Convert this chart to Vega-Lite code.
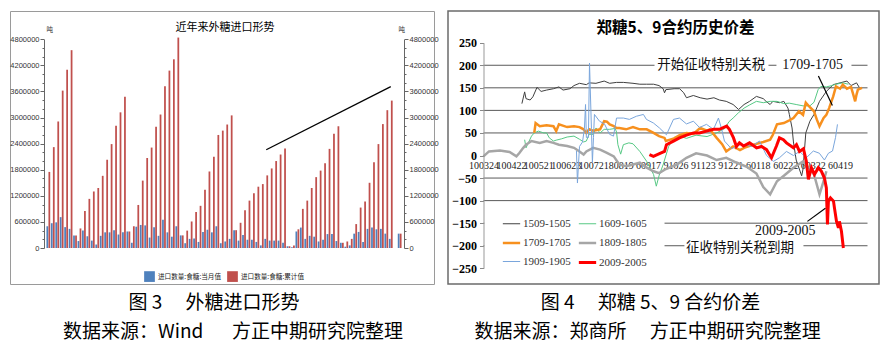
{
  "$schema": "https://vega.github.io/schema/vega-lite/v6.json",
  "padding": {"left": 9, "top": 10, "right": 4, "bottom": 0},
  "background": "white",
  "spacing": 8,
  "resolve": {"scale": {"color": "independent", "strokeWidth": "independent"}, "legend": {"color": "independent", "strokeWidth": "independent"}},
  "config": {
    "font": "Noto Sans CJK SC",
    "axis": {"labelOverlap": false, "labelBound": false, "labelFlush": false, "grid": false},
    "concat": {"spacing": 8}
  },
  "hconcat": [
    {
      "title": {"text": "数据来源：Wind\u3000\u2002方正中期研究院整理", "orient": "bottom", "anchor": "middle", "dx": 9, "fontSize": 19, "fontWeight": "normal", "offset": 10, "font": "Noto Sans CJK SC", "color": "#000"},
      "vconcat": [
        {
          "title": {"text": "图 3\u3000 外糖进口形势", "orient": "bottom", "anchor": "middle", "dx": -10, "fontSize": 19, "fontWeight": "normal", "offset": 9, "font": "Noto Sans CJK SC", "color": "#000"},
          "vconcat": [
            {
              "width": 424,
              "height": 273,
              "view": {"stroke": "#9a9a9a", "strokeWidth": 1},
              "title": {"text": "近年来外糖进口形势", "offset": -22, "fontSize": 11, "fontWeight": "normal", "font": "Noto Sans CJK SC", "color": "#000", "anchor": "middle", "dx": 3},
              "resolve": {"axis": {"y": "independent"}},
              "layer": [
                {
                  "data": {"values": [
                    {"m":"2013-07","a":500000,"c":1750000},{"m":"2013-08","a":570000,"c":2320000},{"m":"2013-09","a":590000,"c":2910000},{"m":"2013-10","a":710000,"c":3620000},{"m":"2013-11","a":480000,"c":4100000},{"m":"2013-12","a":440000,"c":4550000},
                    {"m":"2014-01","a":290000,"c":290000},{"m":"2014-02","a":160000,"c":450000},{"m":"2014-03","a":400000,"c":850000},{"m":"2014-04","a":270000,"c":1130000},{"m":"2014-05","a":170000,"c":1300000},{"m":"2014-06","a":80000,"c":1380000},{"m":"2014-07","a":280000,"c":1660000},{"m":"2014-08","a":360000,"c":2030000},{"m":"2014-09","a":360000,"c":2390000},{"m":"2014-10","a":410000,"c":2810000},{"m":"2014-11","a":310000,"c":3120000},{"m":"2014-12","a":360000,"c":3480000},
                    {"m":"2015-01","a":380000,"c":380000},{"m":"2015-02","a":120000,"c":500000},{"m":"2015-03","a":490000,"c":990000},{"m":"2015-04","a":530000,"c":1550000},{"m":"2015-05","a":520000,"c":2070000},{"m":"2015-06","a":240000,"c":2310000},{"m":"2015-07","a":480000,"c":2790000},{"m":"2015-08","a":280000,"c":3070000},{"m":"2015-09","a":650000,"c":3720000},{"m":"2015-10","a":360000,"c":4080000},{"m":"2015-11","a":260000,"c":4340000},{"m":"2015-12","a":500000,"c":4840000},
                    {"m":"2016-01","a":290000,"c":290000},{"m":"2016-02","a":110000,"c":400000},{"m":"2016-03","a":210000,"c":610000},{"m":"2016-04","a":220000,"c":830000},{"m":"2016-05","a":140000,"c":970000},{"m":"2016-06","a":370000,"c":1340000},{"m":"2016-07","a":420000,"c":1760000},{"m":"2016-08","a":360000,"c":2100000},{"m":"2016-09","a":500000,"c":2600000},{"m":"2016-10","a":110000,"c":2700000},{"m":"2016-11","a":150000,"c":2840000},{"m":"2016-12","a":210000,"c":3050000},
                    {"m":"2017-01","a":410000,"c":410000},{"m":"2017-02","a":170000,"c":580000},{"m":"2017-03","a":300000,"c":870000},{"m":"2017-04","a":190000,"c":1090000},{"m":"2017-05","a":190000,"c":1260000},{"m":"2017-06","a":140000,"c":1410000},{"m":"2017-07","a":60000,"c":1470000},{"m":"2017-08","a":210000,"c":1670000},{"m":"2017-09","a":170000,"c":1830000},{"m":"2017-10","a":170000,"c":2000000},{"m":"2017-11","a":170000,"c":2150000},{"m":"2017-12","a":120000,"c":2290000},
                    {"m":"2018-01","a":40000,"c":40000},{"m":"2018-02","a":20000,"c":60000},{"m":"2018-03","a":380000,"c":430000},{"m":"2018-04","a":470000,"c":900000},{"m":"2018-05","a":210000,"c":1090000},{"m":"2018-06","a":280000,"c":1380000},{"m":"2018-07","a":260000,"c":1630000},{"m":"2018-08","a":150000,"c":1780000},{"m":"2018-09","a":190000,"c":1950000},{"m":"2018-10","a":320000,"c":2280000},{"m":"2018-11","a":320000,"c":2630000},{"m":"2018-12","a":160000,"c":2800000},
                    {"m":"2019-01","a":120000,"c":120000},{"m":"2019-02","a":30000,"c":150000},{"m":"2019-03","a":60000,"c":210000},{"m":"2019-04","a":330000,"c":550000},{"m":"2019-05","a":370000,"c":930000},{"m":"2019-06","a":140000,"c":1070000},{"m":"2019-07","a":440000,"c":1500000},{"m":"2019-08","a":470000,"c":1970000},{"m":"2019-09","a":430000,"c":2390000},{"m":"2019-10","a":440000,"c":2850000},{"m":"2019-11","a":330000,"c":3170000},{"m":"2019-12","a":210000,"c":3390000},
                    {"m":"2020-01","a":0,"c":0},{"m":"2020-02","a":330000,"c":330000}
                  ]},
                  "transform": [{"fold": ["a", "c"], "as": ["s", "v"]}],
                  "mark": {"type": "bar"},
                  "encoding": {
                    "x": {"field": "m", "type": "ordinal", "scale": {"range": [34, 394], "paddingInner": 0.15, "paddingOuter": 0.55},
                      "axis": {"orient": "bottom", "offset": -36, "title": null, "labelAngle": 0,
                        "values": ["2013-09","2013-12","2014-03","2014-06","2014-09","2014-12","2015-03","2015-06","2015-09","2015-12","2016-03","2016-06","2016-09","2016-12","2017-03","2017-06","2017-09","2017-12","2018-03","2018-06","2018-09","2018-12","2019-03","2019-06","2019-09","2019-12"],
                        "labelExpr": "slice(datum.value, 5) == '12' ? slice(datum.value, 2) : ''",
                        "tickSize": {"condition": {"test": "slice(datum.value, 5) == '12'", "value": 4}, "value": 2.5},
                        "domainColor": "#666", "tickColor": "#666", "labelFont": "Liberation Sans", "labelFontSize": 7.5, "labelColor": "#333", "labelPadding": 2}},
                    "xOffset": {"field": "s", "type": "nominal", "scale": {"paddingInner": 0.12}},
                    "y": {"field": "v", "type": "quantitative", "scale": {"domain": [0, 4800000], "range": [237, 28.3], "nice": false},
                      "axis": {"orient": "left", "offset": -34, "title": "吨", "titleAngle": 0, "titleX": 2, "titleY": 21, "titleAlign": "left", "titleBaseline": "bottom", "titleFontSize": 6.5, "titleFontWeight": "normal", "titleColor": "#333",
                        "values": [0,200000,400000,600000,800000,1000000,1200000,1400000,1600000,1800000,2000000,2200000,2400000,2600000,2800000,3000000,3200000,3400000,3600000,3800000,4000000,4200000,4400000,4600000,4800000],
                        "format": "d", "labelExpr": "datum.value % 600000 === 0 ? datum.label : ''",
                        "tickSize": {"condition": {"test": "datum.value % 600000 === 0", "value": 4}, "value": 2},
                        "domainColor": "#666", "tickColor": "#666", "labelFont": "Liberation Sans", "labelFontSize": 7.5, "labelColor": "#333", "labelPadding": 1}},
                    "color": {"field": "s", "type": "nominal", "scale": {"domain": ["a", "c"], "range": ["#4f81bd", "#c0504d"]},
                      "legend": {"orient": "none", "legendX": 134, "legendY": 260, "direction": "horizontal", "title": null, "symbolType": "square", "symbolSize": 115, "symbolStrokeWidth": 0, "labelFontSize": 6.6, "labelFont": "Noto Sans CJK SC", "labelColor": "#222", "columnPadding": 5, "labelOffset": 3, "padding": 0,
                        "labelExpr": "datum.value == 'a' ? '进口数量:食糖:当月值' : '进口数量:食糖:累计值'"}}
                  }
                },
                {
                  "data": {"values": [{"m1": "2017-08", "m2": "2019-12", "y1": 2260000, "y2": 3710000}]},
                  "mark": {"type": "rule", "color": "#000", "strokeWidth": 1.3},
                  "encoding": {
                    "x": {"field": "m1", "type": "ordinal", "scale": {"range": [34, 394], "paddingInner": 0.15, "paddingOuter": 0.55}, "axis": null},
                    "x2": {"field": "m2"},
                    "y": {"field": "y1", "type": "quantitative", "scale": {"domain": [0, 4800000], "range": [237, 28.3], "nice": false},
                      "axis": {"orient": "right", "offset": -30, "title": "吨", "titleAngle": 0, "titleX": -6, "titleY": 21, "titleAlign": "left", "titleBaseline": "bottom", "titleFontSize": 6.5, "titleFontWeight": "normal", "titleColor": "#333",
                        "values": [0,200000,400000,600000,800000,1000000,1200000,1400000,1600000,1800000,2000000,2200000,2400000,2600000,2800000,3000000,3200000,3400000,3600000,3800000,4000000,4200000,4400000,4600000,4800000],
                        "format": "d", "labelExpr": "datum.value % 600000 === 0 ? datum.label : ''",
                        "tickSize": {"condition": {"test": "datum.value % 600000 === 0", "value": 4}, "value": 2},
                        "domainColor": "#666", "tickColor": "#666", "labelFont": "Liberation Sans", "labelFontSize": 7.5, "labelColor": "#333", "labelPadding": 1}},
                    "y2": {"field": "y2"}
                  }
                },
                {
                  "mark": {"type": "point", "shape": "triangle-up", "filled": true, "size": 45, "angle": 63, "color": "#000", "opacity": 1},
                  "encoding": {
                    "x": {"datum": "2019-12", "type": "ordinal", "scale": {"range": [34, 394], "paddingInner": 0.15, "paddingOuter": 0.55}, "axis": null},
                    "y": {"datum": 3710000, "type": "quantitative", "scale": {"domain": [0, 4800000], "range": [237, 28.3], "nice": false}, "axis": null}
                  }
                }
              ]
            }
          ]
        }
      ]
    },
    {
      "title": {"text": "数据来源：郑商所\u3000 方正中期研究院整理", "orient": "bottom", "anchor": "middle", "dx": -16, "fontSize": 19, "fontWeight": "normal", "offset": 10, "font": "Noto Sans CJK SC", "color": "#000"},
      "vconcat": [
        {
          "title": {"text": "图 4\u3000 郑糖 5、9 合约价差", "orient": "bottom", "anchor": "middle", "dx": -13, "fontSize": 19, "fontWeight": "normal", "offset": 9, "font": "Noto Sans CJK SC", "color": "#000"},
          "vconcat": [
            {
              "width": 431,
              "height": 273,
              "view": {"stroke": "#6b6b6b", "strokeWidth": 1.5},
              "title": {"text": "郑糖5、9合约历史价差", "offset": -25, "fontSize": 15.5, "fontWeight": "bold", "font": "Noto Sans CJK SC", "color": "#000", "anchor": "middle", "dx": 12},
              "resolve": {"axis": {"x": "independent", "y": "independent"}},
              "layer": [
                {
                  "mark": {"type": "rect", "fill": null, "fillOpacity": 0, "stroke": "#a6a6a6", "strokeWidth": 1},
                  "encoding": {
                    "x": {"datum": 0, "type": "quantitative", "scale": {"domain": [0, 280], "range": [35.5, 419.5], "nice": false, "zero": false}, "axis": null},
                    "x2": {"datum": 280},
                    "y": {"datum": -250, "type": "quantitative", "scale": {"domain": [-250, 250], "range": [257.3, 31.7], "nice": false, "zero": false}, "axis": null},
                    "y2": {"datum": 250}
                  }
                },
                {
                  "data": {"values": [{"g": 200}, {"g": 150}, {"g": 100}, {"g": 50}, {"g": -50}, {"g": -100}, {"g": -150}, {"g": -200}]},
                  "mark": {"type": "rule", "color": "#595959", "strokeWidth": 1},
                  "encoding": {
                    "x": {"datum": 0, "type": "quantitative", "scale": {"domain": [0, 280], "range": [35.5, 419.5], "nice": false, "zero": false}, "axis": null},
                    "x2": {"datum": 280},
                    "y": {"field": "g", "type": "quantitative", "scale": {"domain": [-250, 250], "range": [257.3, 31.7], "nice": false, "zero": false}, "axis": null}
                  }
                },
                {
                  "mark": {"type": "rule", "color": "#5a5a5a", "strokeWidth": 2},
                  "encoding": {
                    "x": {"datum": 0, "type": "quantitative", "scale": {"domain": [0, 280], "range": [35.5, 419.5], "nice": false, "zero": false}, "axis": null},
                    "x2": {"datum": 280},
                    "y": {"datum": 0, "type": "quantitative", "scale": {"domain": [-250, 250], "range": [257.3, 31.7], "nice": false, "zero": false}, "axis": null}
                  }
                },
                {
                  "mark": {"type": "rule", "color": "#5a5a5a", "strokeWidth": 5, "strokeDash": [1, 1.5]},
                  "encoding": {
                    "x": {"datum": 0, "type": "quantitative", "scale": {"domain": [0, 280], "range": [35.5, 419.5], "nice": false, "zero": false}, "axis": null},
                    "x2": {"datum": 280},
                    "y": {"datum": 0, "type": "quantitative", "scale": {"domain": [-250, 250], "range": [257.3, 31.7], "nice": false, "zero": false}, "axis": null}
                  }
                },
                {
                  "data": {"values": [
                    {"x1": 0.6, "x2": 132, "y1": -112, "y2": -252},
                    {"x1": 124.7, "x2": 207.8, "y1": 185, "y2": 215},
                    {"x1": 213.6, "x2": 268.3, "y1": 187, "y2": 213},
                    {"x1": 195.4, "x2": 279.5, "y1": -152, "y2": -182},
                    {"x1": 146.5, "x2": 233.3, "y1": -190, "y2": -221}
                  ]},
                  "mark": {"type": "rect", "fill": "white", "stroke": null},
                  "encoding": {
                    "x": {"field": "x1", "type": "quantitative", "scale": {"domain": [0, 280], "range": [35.5, 419.5], "nice": false, "zero": false}, "axis": null},
                    "x2": {"field": "x2"},
                    "y": {"field": "y1", "type": "quantitative", "scale": {"domain": [-250, 250], "range": [257.3, 31.7], "nice": false, "zero": false}, "axis": null},
                    "y2": {"field": "y2"}
                  }
                },
                {
                  "data": {"values": [
                    {"s": "1509-1505", "d": [28,30,31,34,36,39,42,46,51,55,58,63,66,70,75,77,82,88,92,97,102,109,114,119,124,128,131,132,133,139,143,146,148,153,158,163,168,172,177,182,186,190,194,199,204,206,209,211,216,219,222,223,225,226,228,232,233,235,238,241,245,250,255,260,265,268,272,274],
                      "v": [115,141,126,123,130,151,142,145,148,152,145,148,155,160,157,161,160,165,160,162,162,160,158,158,158,155,148,139,146,148,148,139,128,133,128,125,128,123,120,113,102,113,120,131,126,120,113,120,117,120,105,91,61,30,-10,-45,-30,50,76,91,120,142,157,161,165,155,161,151]},
                    {"s": "1609-1605", "d": [30,31,33,35,37,40,44,46,48,51,53,57,61,66,70,73,75,77,80,82,85,88,92,96,97,98,100,102,106,109,114,119,124,126,128,131,135,139,143,148,155,163,170,176,179,182,186,190,194,199,204,209,214,219,223,228,233,238,241,244,246,250,254,257,262,266],
                      "v": [35,17,30,43,50,54,50,50,39,32,34,37,41,43,36,30,32,47,47,61,50,58,58,60,52,24,3,24,28,26,9,-13,-42,-68,-45,-20,20,40,43,38,45,42,50,60,75,83,95,105,112,120,117,120,120,115,116,113,110,110,118,146,153,152,155,158,161,158]},
                    {"s": "1709-1705", "d": [37,38,41,46,51,53,55,61,66,70,73,75,77,80,85,88,90,92,95,97,99,104,109,114,119,124,128,132,133,139,143,148,153,158,163,165,170,174,177,182,187,190,197,204,209,211,214,219,223,226,230,233,235,238,241,243,245,248,250,252,255,257,260,262,265,268,270,271,272,273,276],
                      "v": [50,72,65,67,65,54,69,63,65,63,58,50,58,55,58,76,75,69,65,61,61,58,63,58,58,50,43,39,32,38,45,50,48,61,55,58,39,25,9,20,12,17,24,30,35,46,69,72,78,83,98,90,117,107,98,80,65,83,90,105,131,153,148,157,148,152,131,120,135,146,150]},
                    {"s": "1809-1805", "d": [0,4,12,19,24,26,29,31,35,41,46,51,55,61,66,70,73,75,80,85,90,95,99,104,109,114,119,124,128,133,141,148,155,163,170,177,184,192,199,204,209,214,219,226,233,238,241,245,248,250],
                      "v": [-2,9,11,8,-2,5,17,24,32,28,32,28,24,21,17,9,2,9,17,13,6,-2,-20,-24,-20,-16,-27,-35,-39,-30,-20,-5,5,0,-10,-5,-15,-25,-40,-70,-86,-57,-45,-27,-13,-30,-42,-86,-57,-35]},
                    {"s": "1909-1905", "d": [67.8,68.5,70,72.2,73.6,74.4,75,76.5,77.3,78.7,79.4,80.2,80.9,84.6,88.2,91.9,94.8,97,102,106.4,111.5,116.6,118.8,123.9,128.3,132,133.4,138.5,142.9,148,153.1,157.5,162.6,167.7,171.3,173.5,175.7,180.8,188.1,195.4,201.2,206.4,211.4,215.8,220.9,226,230.4,235.4,240.5,244.9,248.6,251.5,254.5,256.7,258.1],
                      "v": [10,-61,20,30,60,113,40,40,205,60,-16,40,91,76,70,47,43,83,83,80,87,91,80,72,61,50,46,80,83,70,76,62,69,58,83,60,32,15,25,20,32,0,-13,-5,9,0,9,-5,10,5,-10,5,10,40,69]},
                    {"s": "2009-2005", "d": [121,123.9,128.3,132,133.4,138.5,142.9,148,153.1,157.5,162.6,167.7,172,177.3,179.3,182.3,184.4,186.6,189.6,194,199.1,202.7,206.4,210,213.6,215.8,218.7,220.9,226,228.2,230.4,233.3,235.4,236.9,239.1,241.3,244.2,246.4,248.6,250,250.8,251.5,253,255.2,255.9,257.4,258.8,259.5,261,262.4],
                      "v": [2,-2,4,9,24,32,39,45,50,50,54,58,58,65,58,39,20,28,21,28,17,20,13,-5,21,39,35,28,17,24,9,15,-13,-53,-27,-42,-27,-35,-50,-72,-153,-101,-94,-101,-116,-146,-160,-146,-168,-205]}
                  ]},
                  "transform": [{"flatten": ["d", "v"]}],
                  "mark": {"type": "line", "interpolate": "linear"},
                  "encoding": {
                    "x": {"field": "d", "type": "quantitative", "scale": {"domain": [0, 280], "range": [35.5, 419.5], "nice": false, "zero": false},
                      "axis": {"orient": "bottom", "offset": -128.7, "title": null, "domain": false, "ticks": false, "labelPadding": 5,
                        "values": [0,20,40,60,80,100,120,140,160,180,200,220,240,260],
                        "labelExpr": "['100324','100422','100521','100623','100721','80819','60917','91026','91123','91221','60118','60222','60322','60419'][datum.value / 20]",
                        "labelFont": "Liberation Serif", "labelFontSize": 10, "labelColor": "#222", "labelAngle": 0}},
                    "y": {"field": "v", "type": "quantitative", "scale": {"domain": [-250, 250], "range": [257.3, 31.7], "nice": false, "zero": false},
                      "axis": {"orient": "left", "offset": -35.5, "title": null, "zindex": 1,
                        "values": [-250,-200,-150,-100,-50,0,50,100,150,200,250],
                        "labelFont": "Liberation Serif", "labelFontWeight": "bold", "labelFontSize": 12, "labelColor": "#000", "labelPadding": 3,
                        "tickSize": 4, "tickColor": "#888", "domainColor": "#999"}},
                    "color": {"field": "s", "type": "nominal",
                      "scale": {"domain": ["1509-1505", "1609-1605", "1709-1705", "1809-1805", "1909-1905", "2009-2005"], "range": ["#404040", "#57c985", "#f7901e", "#a6a6a6", "#7aa6dc", "#ff0000"]},
                      "legend": {"orient": "none", "legendX": 53, "legendY": 203, "columns": 2, "title": null, "symbolType": "stroke", "symbolSize": 300, "labelFont": "Liberation Serif", "labelFontSize": 11, "labelColor": "#333", "rowPadding": 4, "columnPadding": 1, "labelOffset": 1, "padding": 0,
                        "values": ["1509-1505", "1709-1705", "1909-1905", "1609-1605", "1809-1805", "2009-2005"]}},
                    "strokeWidth": {"field": "s", "type": "nominal",
                      "scale": {"type": "ordinal", "domain": ["1509-1505", "1609-1605", "1709-1705", "1809-1805", "1909-1905", "2009-2005"], "range": [1, 1, 2.5, 2.5, 1, 3]},
                      "legend": {"orient": "none", "legendX": 53, "legendY": 203, "columns": 2, "title": null, "symbolType": "stroke", "symbolSize": 300, "labelFont": "Liberation Serif", "labelFontSize": 11, "labelColor": "#333", "rowPadding": 4, "columnPadding": 1, "labelOffset": 1, "padding": 0,
                        "values": ["1509-1505", "1709-1705", "1909-1905", "1609-1605", "1809-1805", "2009-2005"]}}
                  }
                },
                {
                  "data": {"values": [
                    {"t": "开始征收特别关税", "d": 166, "v": 200},
                    {"t": "征收特别关税到期", "d": 187, "v": -205}
                  ]},
                  "mark": {"type": "text", "font": "Noto Sans CJK SC", "fontSize": 13.5, "color": "#111", "align": "center", "baseline": "middle"},
                  "encoding": {
                    "x": {"field": "d", "type": "quantitative", "scale": {"domain": [0, 280], "range": [35.5, 419.5], "nice": false, "zero": false}, "axis": null},
                    "y": {"field": "v", "type": "quantitative", "scale": {"domain": [-250, 250], "range": [257.3, 31.7], "nice": false, "zero": false}, "axis": null},
                    "text": {"field": "t"}
                  }
                },
                {
                  "data": {"values": [
                    {"t": "1709-1705", "d": 240, "v": 200},
                    {"t": "2009-2005", "d": 220, "v": -168}
                  ]},
                  "mark": {"type": "text", "font": "Liberation Serif", "fontSize": 14, "color": "#111", "align": "center", "baseline": "middle"},
                  "encoding": {
                    "x": {"field": "d", "type": "quantitative", "scale": {"domain": [0, 280], "range": [35.5, 419.5], "nice": false, "zero": false}, "axis": null},
                    "y": {"field": "v", "type": "quantitative", "scale": {"domain": [-250, 250], "range": [257.3, 31.7], "nice": false, "zero": false}, "axis": null},
                    "text": {"field": "t"}
                  }
                },
                {
                  "data": {"values": [
                    {"d1": 244.2, "v1": 176, "d2": 254.4, "v2": 111},
                    {"d1": 236.2, "v1": -146, "d2": 249.3, "v2": -117}
                  ]},
                  "mark": {"type": "rule", "color": "#000", "strokeWidth": 1.2},
                  "encoding": {
                    "x": {"field": "d1", "type": "quantitative", "scale": {"domain": [0, 280], "range": [35.5, 419.5], "nice": false, "zero": false}, "axis": null},
                    "x2": {"field": "d2"},
                    "y": {"field": "v1", "type": "quantitative", "scale": {"domain": [-250, 250], "range": [257.3, 31.7], "nice": false, "zero": false}, "axis": null},
                    "y2": {"field": "v2"}
                  }
                },
                {
                  "mark": {"type": "point", "shape": "triangle-up", "filled": true, "size": 30, "angle": 154, "color": "#000", "opacity": 1},
                  "encoding": {
                    "x": {"datum": 254.4, "type": "quantitative", "scale": {"domain": [0, 280], "range": [35.5, 419.5], "nice": false, "zero": false}, "axis": null},
                    "y": {"datum": 111, "type": "quantitative", "scale": {"domain": [-250, 250], "range": [257.3, 31.7], "nice": false, "zero": false}, "axis": null}
                  }
                },
                {
                  "mark": {"type": "point", "shape": "triangle-up", "filled": true, "size": 30, "angle": 54, "color": "#000", "opacity": 1},
                  "encoding": {
                    "x": {"datum": 249.3, "type": "quantitative", "scale": {"domain": [0, 280], "range": [35.5, 419.5], "nice": false, "zero": false}, "axis": null},
                    "y": {"datum": -117, "type": "quantitative", "scale": {"domain": [-250, 250], "range": [257.3, 31.7], "nice": false, "zero": false}, "axis": null}
                  }
                }
              ]
            }
          ]
        }
      ]
    }
  ]
}
